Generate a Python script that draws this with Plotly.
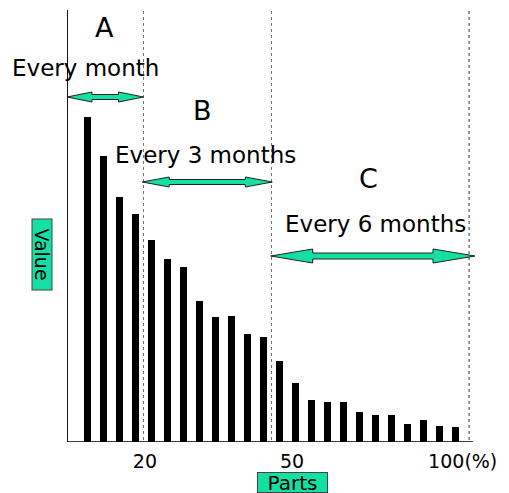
import plotly.graph_objects as go

# bar values (pixel-height estimates)
part_index = list(range(1, 25))
part_values = [325, 286, 245, 228, 202, 183, 175, 141, 125, 126, 108, 105,
               81, 59, 42, 40, 40, 30, 27, 27, 18, 22, 16, 15]

# x tick labels and group boundaries (in bar-index units)
tick_pos = [4.59, 13.78, 24.45]
tick_text = ["20", "50", "100(%)"]
group_bounds = [4.5, 12.5, 24.85]
group_letters = ["A", "B", "C"]
group_labels = ["Every month", "Every 3 months", "Every 6 months"]

GREEN = "#14E0A4"
PX = 16.0  # pixels per bar-index unit
X_LEFT, X_RIGHT = -0.281, 25.406
Y_TOP = 432

# page body keeps its 8px margin, so the figure is a bit smaller than the window
OFF = 8
W, H = 501, 485
ML, MR, MT, MB = 67 - OFF, 31, 10 - OFF, 51


def page_to_paper(px, py):
    fx = (px - OFF - ML) / (W - ML - MR)
    fy = (H - MB - (py - OFF)) / (H - MT - MB)
    return fx, fy


def arrow_path(x0, x1, y, head_len, head_half, shaft_half):
    hl = head_len / PX
    pts = [
        (x0, y), (x0 + hl, y + head_half), (x0 + hl, y + shaft_half),
        (x1 - hl, y + shaft_half), (x1 - hl, y + head_half), (x1, y),
        (x1 - hl, y - head_half), (x1 - hl, y - shaft_half),
        (x0 + hl, y - shaft_half), (x0 + hl, y - head_half),
    ]
    return "M " + " L ".join(f"{a:.3f},{b:.2f}" for a, b in pts) + " Z"


fig = go.Figure()
fig.add_trace(go.Bar(x=part_index, y=part_values, width=0.44,
                     marker=dict(color="black", line=dict(width=0))))

shapes = []
# axes
shapes.append(dict(type="line", xref="x", yref="y", x0=X_LEFT + 0.02, x1=X_LEFT + 0.02,
                   y0=0, y1=Y_TOP, line=dict(color="black", width=1.2)))
shapes.append(dict(type="line", xref="x", yref="y", x0=X_LEFT, x1=25.09,
                   y0=0, y1=0, line=dict(color="black", width=1.5)))
# dashed group boundaries
for i, b in enumerate(group_bounds):
    shapes.append(dict(type="line", xref="x", yref="y", x0=b, x1=b, y0=2, y1=Y_TOP,
                       line=dict(color="#777777" if i < 2 else "#333333", width=1, dash="3px,3px")))
# arrows
arrow_specs = [
    (X_LEFT, group_bounds[0], 345, 25, 5, 2.5),
    (group_bounds[0] - 0.08, group_bounds[1] + 0.05, 260, 27, 5, 2.5),
    (group_bounds[1] - 0.05, 25.22, 186, 42, 7, 3),
]
for x0, x1, y, hl, hh, sh in arrow_specs:
    shapes.append(dict(type="path", xref="x", yref="y", path=arrow_path(x0, x1, y, hl, hh, sh),
                       fillcolor=GREEN, line=dict(color="#222222", width=1)))

annotations = []
letter_pos = [(2.05, 415), (8.2, 332), (18.57, 264)]
label_pos = [(0.9, 374), (8.35, 287), (19.0, 218)]
for (lx, ly), letter in zip(letter_pos, group_letters):
    annotations.append(dict(x=lx, y=ly, xref="x", yref="y", text=letter, showarrow=False,
                            font=dict(size=27, color="black")))
for (tx, ty), label in zip(label_pos, group_labels):
    annotations.append(dict(x=tx, y=ty, xref="x", yref="y", text=label, showarrow=False,
                            font=dict(size=23, color="black")))

vx, vy = page_to_paper(42.5, 254)
annotations.append(dict(x=vx, y=vy, xref="paper", yref="paper", xanchor="center",
                        yanchor="middle", text="Value", showarrow=False, textangle=90,
                        width=70, height=19, font=dict(size=19, color="black"),
                        bgcolor=GREEN, bordercolor="#444444", borderwidth=1, borderpad=0))
px_, py_ = page_to_paper(292.5, 482)
annotations.append(dict(x=px_, y=py_, xref="paper", yref="paper", xanchor="center",
                        yanchor="middle", text="Parts", showarrow=False,
                        width=69, height=19, font=dict(size=20, color="black"),
                        bgcolor=GREEN, bordercolor="#444444", borderwidth=1, borderpad=0))

fig.update_layout(
    width=W, height=H, autosize=False,
    margin=dict(l=ML, r=MR, t=MT, b=MB),
    paper_bgcolor="white", plot_bgcolor="white",
    font=dict(family="DejaVu Sans", color="black"),
    showlegend=False,
    shapes=shapes,
    annotations=annotations,
    xaxis=dict(range=[X_LEFT, X_RIGHT], showgrid=False, zeroline=False, showline=False,
               tickvals=tick_pos, ticktext=tick_text, ticks="", tickfont=dict(size=19),
               ticklabelstandoff=6, ticklabeloverflow="allow"),
    yaxis=dict(range=[0, Y_TOP], showgrid=False, zeroline=False, showline=False,
               showticklabels=False),
)

fig.write_html("out.html",
               config={"responsive": False, "displayModeBar": False},
               post_script="document.documentElement.style.overflow='hidden';")
